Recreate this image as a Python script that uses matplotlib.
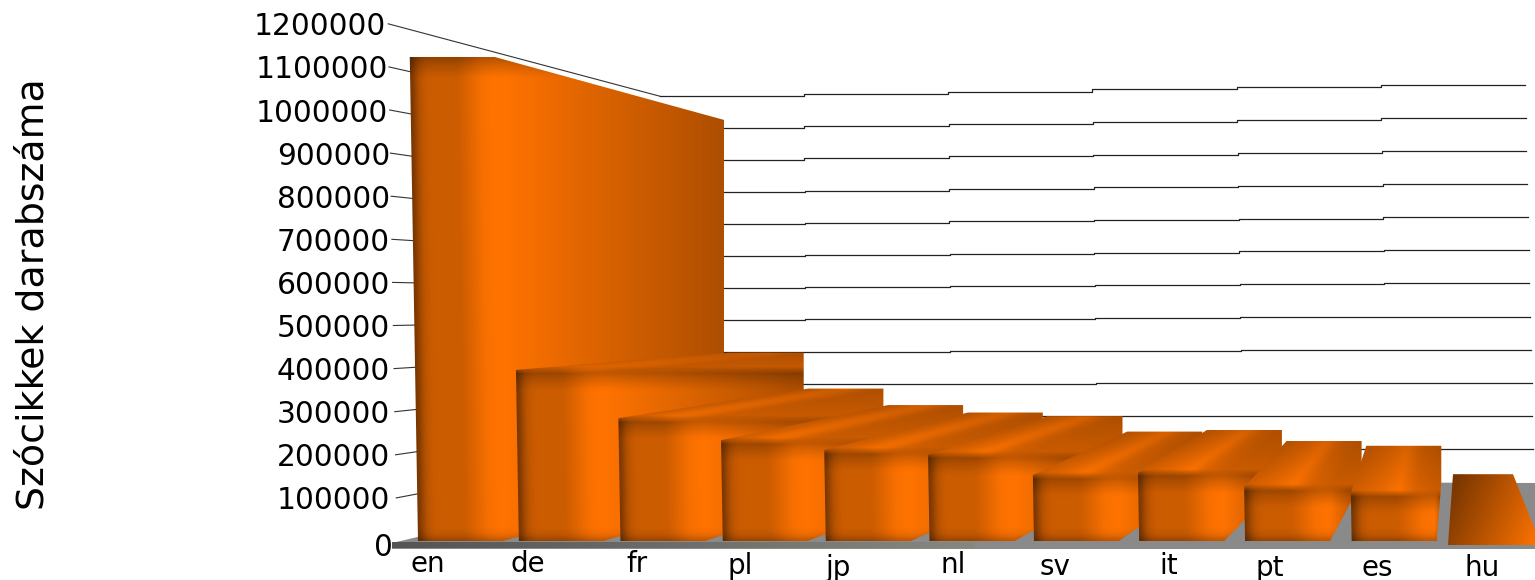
import numpy as np
from matplotlib import pyplot as plt
from matplotlib.patches import Polygon
from matplotlib.transforms import ScaledTranslation

languages = ['en', 'de', 'fr', 'pl', 'jp', 'nl', 'sv', 'it', 'pt', 'es', 'hu']
articles = [1123000, 397000, 285000, 234000, 211000, 200000, 153000, 158000, 125000, 111000, 155000]
y_ticks = [0, 100000, 200000, 300000, 400000, 500000, 600000, 700000,
           800000, 900000, 1000000, 1100000, 1200000]

# layout of the hand-tuned perspective, x in pixels
PX = 1e5 / 43.1           # value units per pixel on the front plane
LEAN = 0.017
WALL_L, WALL_R = 660, 1525
ORANGE = np.array([255, 115, 0]) / 255

label_dx = [10, 9, 17, 17, 12, 24, 21, 30, 25, 26, 23]
label_base = [572, 572, 572, 574, 576, 573, 575, 574, 576, 576, 576]


def front_x(i):
    return 418 + 100.5 * i + 0.36 * i ** 2


def back_x(i):
    return 724 + 79.7 * i


def lean(v):
    return LEAN * v / PX


def back_val(v, x):
    # value on the back wall as it looks on the front plane scale
    t = (x - WALL_L) / (WALL_R - WALL_L)
    slope = 0.742 + (0.775 - 0.742) * t
    off = 141500 + (134600 - 141500) * t
    return off + slope * v


def hull(points):
    pts = sorted(set(points))

    def half(seq):
        out = []
        for p in seq:
            while len(out) > 1 and ((out[-1][0] - out[-2][0]) * (p[1] - out[-2][1])
                                    - (out[-1][1] - out[-2][1]) * (p[0] - out[-2][0])) <= 0:
                out.pop()
            out.append(p)
        return out[:-1]
    return half(pts) + half(pts[::-1])


def blur(b, n=3):
    k = np.ones(2 * n + 1) / (2 * n + 1)
    for axis in (0, 1):
        b = np.apply_along_axis(lambda r: np.convolve(np.pad(r, n, mode='edge'), k, 'valid'), axis, b)
    return b


def draw_bar(ax, i, v):
    xfl = front_x(i)
    xfr = xfl + 85
    xbr = back_x(i)
    xbl = xbr - 75
    vb = back_val(v, xbr)
    corners = [(xfl, 0), (xfr, 0), (xfl - lean(v), v), (xfr - lean(v), v),
               (xbl, vb), (xbr, vb), (xbr, back_val(0, xbr))]
    poly = hull(corners)
    xs = np.arange(min(p[0] for p in poly) - 1, max(p[0] for p in poly) + 2)
    ys = np.arange(-2 * PX, max(p[1] for p in poly) + 2 * PX, PX)
    X, Y = np.meshgrid(xs, ys)

    # front face
    u = np.clip((X - (xfl - lean(Y))) / 85, 0, 1)
    b = np.interp(u, [0, .1, .2, .55, .85, 1], [.45, .72, .8, .8, .98, 1])
    # side going back
    w = np.clip((X - xfr) / max(xbr - xfr, 1), 0, 1)
    b = np.where(X > xfr - lean(Y), 1 - .32 * w, b)
    # darker at the foot and under the top edge
    b = b * np.interp(Y / PX, [0, 4, 12], [.72, .9, 1])
    b = b * np.interp((v - Y) / PX, [0, 6, 20], [.7, .82, 1])
    # top face
    if vb > v:
        along = np.clip((Y - v) / (vb - v), 0, 1)
        x_a = xfl + (xbl - xfl) * along
        x_b = xfr + (xbr - xfr) * along
        s = np.clip((X - x_a) / (x_b - x_a), 0, 1)
        top = np.interp(s, [0, .35, .55, .75, 1], [.82, .92, 1, .86, .8]) * (1 - .15 * along)
        b = np.where(Y > v, top, b)
    b = blur(b)

    img = ax.imshow(b[..., None] * ORANGE, origin='lower', aspect='auto', interpolation='bilinear',
                    extent=[xs[0], xs[-1], ys[0], ys[-1]], zorder=3 + i * .01)
    clip = Polygon(poly, closed=True, transform=ax.transData)
    img.set_clip_path(clip)


def draw_last_bar(ax, i, v):
    # hu is nearest the camera and shows no separate top
    xfl = front_x(i)
    bottom = -4 * PX
    poly = [(xfl - 11, bottom), (xfl + 82, bottom), (xfl + 54, v), (xfl - 6, v)]
    xs = np.arange(xfl - 12, xfl + 84)
    ys = np.arange(bottom, v + PX, PX)
    X, Y = np.meshgrid(xs, ys)
    b = .48 + .38 * (X - xfl) / 80 + .14 * (v - Y) / v
    img = ax.imshow(np.clip(b, 0, 1)[..., None] * ORANGE, origin='lower', aspect='auto',
                    extent=[xs[0], xs[-1], ys[0], ys[-1]], zorder=3.5)
    img.set_clip_path(Polygon(poly, closed=True, transform=ax.transData))


fig = plt.figure(figsize=(15.35, 5.8), dpi=100)
ax = fig.add_axes([397 / 1535, 0, 1 - 397 / 1535, 1])

# floor
floor = [(392, -2 * PX), (WALL_L, back_val(0, WALL_L)), (1535, back_val(0, WALL_R)),
         (1535, -8 * PX), (392, -8 * PX)]
ax.add_patch(Polygon(floor, closed=True, fc='#8a8a8a', ec='none', zorder=1, clip_on=False))
band = np.linspace(0, 1, 256)[None, :, None] * np.array([.2, .2, .18]) + .33
ax.imshow(band, aspect='auto', extent=[392, 975, -7 * PX, -1 * PX], zorder=1.5, clip_on=False)

# walls
for v in y_ticks[1:]:
    ax.plot([397 - lean(v), WALL_L], [v, back_val(v, WALL_L)], color='#333333', lw=.8,
            zorder=2, clip_on=False)
    x_end = WALL_R + LEAN * (1200000 - v) / PX
    xs = np.linspace(WALL_L, x_end, 7)
    wall = back_val(v, xs)
    wall[-1] = wall[-2]
    ax.plot(xs, wall, color='#222222', lw=.9, drawstyle='steps-post', zorder=2)

for i in range(len(articles) - 1):
    draw_bar(ax, i, articles[i])
draw_last_bar(ax, len(articles) - 1, articles[-1])

ax.set_xlim(397, 1535)
ax.set_ylim(-39 * PX, 541 * PX)
for name in ax.spines:
    ax.spines[name].set_visible(False)
ax.spines['bottom'].set_position(('data', 0))

ax.set_yticks(y_ticks)
ax.set_yticklabels([str(t) for t in y_ticks], fontsize=21.3)
ax.tick_params(axis='y', length=0)
for tick, t in zip(ax.yaxis.get_major_ticks(), y_ticks):
    tick.set_pad((11 if t == 1200000 else 9 if t >= 1000000 else 4 if t == 0 else 7) * .72)

ax.set_xticks([front_x(i) + d for i, d in enumerate(label_dx)])
ax.set_xticklabels(languages, fontsize=20)
ax.tick_params(axis='x', length=0)
for tick, base in zip(ax.xaxis.get_major_ticks(), label_base):
    tick.label1.set_va('baseline')
    tick.set_pad((base - 541) * .72)

# the zero label sits a bit lower than its tick
zero = ax.yaxis.get_major_ticks()[0].label1
zero.set_transform(zero.get_transform() + ScaledTranslation(0, -4 / 100, fig.dpi_scale_trans))

ax.set_ylabel('Szócikkek darabszáma', fontsize=27.3)
ax.yaxis.set_label_coords(52 / 1535, 1 - 294 / 580, transform=fig.transFigure)

fig.savefig('out.png', dpi=100)
